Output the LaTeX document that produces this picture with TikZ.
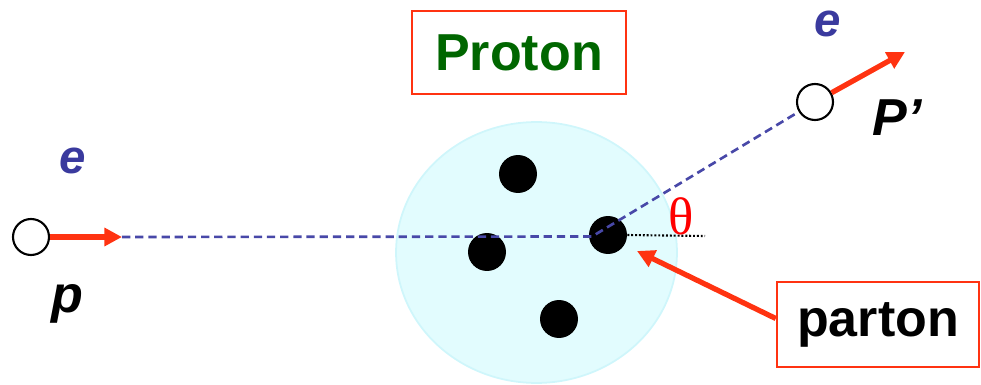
\documentclass[tikz,border=0pt]{standalone}
\usepackage{fontspec}
\setmainfont{Liberation Sans}
\newfontfamily\serifgreek{Liberation Serif}
\usetikzlibrary{arrows.meta,shapes.geometric}
\definecolor{Rojo}{HTML}{FF3311}
\definecolor{Azul}{HTML}{3A3A9E}
\definecolor{AzulTraza}{HTML}{4848A8}
\definecolor{Verde}{HTML}{006600}
\definecolor{Cian}{HTML}{E2FCFE}
\definecolor{CianBorde}{HTML}{CFF6FB}

\begin{document}
\begin{tikzpicture}[
  x=0.02cm, y=-0.02cm,
  electron/.style={circle,draw=black,line width=1.2pt,fill=white,
    minimum size=0.72cm,inner sep=0pt},
  parton/.style={circle,fill=black,minimum size=0.76cm,inner sep=0pt},
  tag/.style={draw=Rojo,line width=1.4pt,inner sep=0pt,
    font=\fontsize{29.6}{32}\selectfont\bfseries},
  kick/.style={-{Triangle[length=10pt,width=10pt]},Rojo,line width=3pt},
  track/.style={AzulTraza,line width=1.5pt,dash pattern=on 4.7pt off 2.8pt},
  particle/.style={font=\fontsize{27}{30}\selectfont\bfseries\itshape},
  momentum/.style={font=\fontsize{29.6}{32}\selectfont\bfseries\itshape}
]
  \useasboundingbox (0,0) rectangle (981,385);

  % proton and its partons
  \node[ellipse,fill=Cian,draw=CianBorde,line width=1pt,inner sep=0pt,
    minimum width=5.62cm,minimum height=5.22cm] (proton) at (536.5,252.5) {};
  \node[parton] (q1) at (518,174) {};
  \node[parton] (q2) at (487,252) {};
  \node[parton] (q3) at (608,235) {};
  \node[parton] (q4) at (559,319) {};

  % electrons
  \node[electron] (ein) at (31,237) {};
  \node[electron] (eout) at (815,102) {};
  \coordinate (inTip) at (122,237);
  \coordinate (vertex) at (592,236.5);
  \coordinate (outTip) at (905,52);
  \coordinate (thetaEnd) at (705,236);
  \coordinate (pointTip) at (637,251);

  \draw[track] (inTip) -- (vertex) -- (eout);
  \draw[line width=1.2pt,dash pattern=on 1.1pt off 1.1pt] (q3.east) -- (thetaEnd);
  \draw[kick] (ein) -- (inTip);
  \draw[kick] (eout) -- (outTip);

  \node[text=Azul,particle] (eInLbl) at (73,161) {e};
  \node[momentum] (pLbl) at (67,304) {p};
  \node[text=Azul,particle] (eOutLbl) at (828,24) {e};
  \node[momentum] (pOutLbl) at (897,118) {P’};
  \node[text=red,font=\serifgreek\fontsize{30}{32}\selectfont] (theta) at (681,216) {θ};

  % labels in boxes
  \node[tag,text=Verde,minimum width=4.28cm,minimum height=1.66cm] (protonTag)
    at (519,52.5) {Proton};
  \node[tag,minimum width=4.04cm,minimum height=1.7cm] (partonTag)
    at (878,324.5) {parton};
  \draw[kick] ([yshift=3.4pt]partonTag.west) -- (pointTip);
\end{tikzpicture}
\end{document}
